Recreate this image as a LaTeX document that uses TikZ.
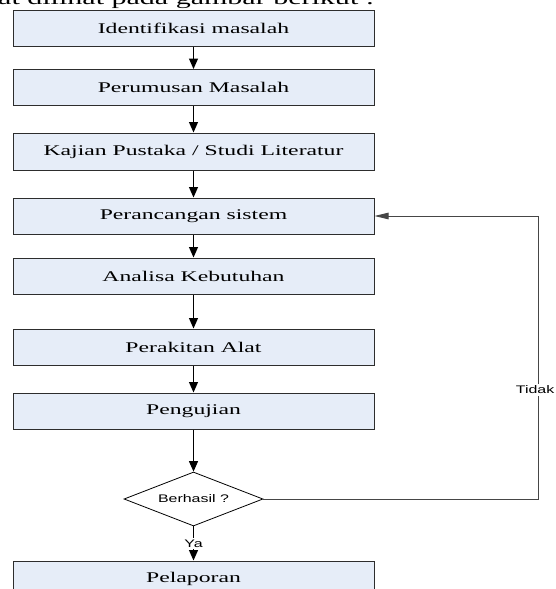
\documentclass[tikz,border=0pt]{standalone}
\usepackage{fontspec}
\setmainfont{Liberation Serif}
\newfontfamily\boxfont[FakeStretch=1.6]{Liberation Serif}
\newfontfamily\topfont[FakeStretch=1.58]{Liberation Serif}
\newfontfamily\labfont[FakeStretch=1.45]{Liberation Sans}
\usetikzlibrary{arrows.meta,shapes.geometric}
\definecolor{boxfill}{RGB}{230,237,248}
\definecolor{boxline}{RGB}{45,45,45}
\definecolor{loopgray}{RGB}{70,70,70}
\begin{document}
\begin{tikzpicture}[x=1pt,y=-1pt,
  stepbox/.style={draw=boxline, line width=1pt, fill=boxfill, minimum width=361pt,
    minimum height=36pt, inner sep=0pt, font=\boxfont\fontsize{14.8}{16}\selectfont},
  decbox/.style={draw=black, line width=0.8pt, fill=white, shape=diamond, shape aspect=2.57,
    minimum width=139pt, minimum height=54pt, inner sep=1pt, font=\labfont\fontsize{11}{12}\selectfont},
  lab/.style={fill=white, inner sep=1.5pt, font=\labfont\fontsize{11}{12}\selectfont},
  arr/.style={-{Triangle[length=10.5pt,width=9pt]}, line width=1.2pt, draw=black},
  looparr/.style={-{Triangle[length=14pt,width=6.5pt]}, line width=0.9pt, draw=loopgray},
  toptext/.style={anchor=base west, inner sep=0pt, font=\topfont\fontsize{19}{20}\selectfont}
]
\useasboundingbox (0,0) rectangle (555,589);
\begin{scope}
\clip (0,0) rectangle (555,589);
\node[toptext] (top) at (-2,4.5) {at dilihat pada gambar berikut :};

\node[stepbox] (b1) at (193.5,28) {Identifikasi masalah};
\node[stepbox] (b2) at (193.5,87.5) {Perumusan Masalah};
\node[stepbox, minimum height=37pt] (b3) at (193.5,151.5) {Kajian Pustaka / Studi Literatur};
\node[stepbox] (b4) at (193.5,216) {Perancangan sistem};
\node[stepbox] (b5) at (193.5,276) {Analisa Kebutuhan};
\node[stepbox] (b6) at (193.5,347) {Perakitan Alat};
\node[stepbox] (b7) at (193.5,411) {Pengujian};
\node[decbox] (dec) at (193.5,499) {Berhasil ?};
\node[stepbox] (b8) at (193.5,579) {Pelaporan};

\draw[arr] (b1) -- (b2);
\draw[arr] (b2) -- (b3);
\draw[arr] (b3) -- (b4);
\draw[arr] (b4) -- (b5);
\draw[arr] (b5) -- (b6);
\draw[arr] (b6) -- (b7);
\draw[arr] (b7) -- (dec);
\draw[arr] (dec) -- node[lab] (ya) {Ya} (b8);

\coordinate (c1) at (538,499);
\coordinate (c2) at (538,216);
\draw[looparr] (dec.east) -- (c1) -- (c2) -- (b4.east);
\node[lab, anchor=east, inner xsep=0.5pt] (tidak) at (555,390) {Tidak};
\end{scope}
\end{tikzpicture}
\end{document}
